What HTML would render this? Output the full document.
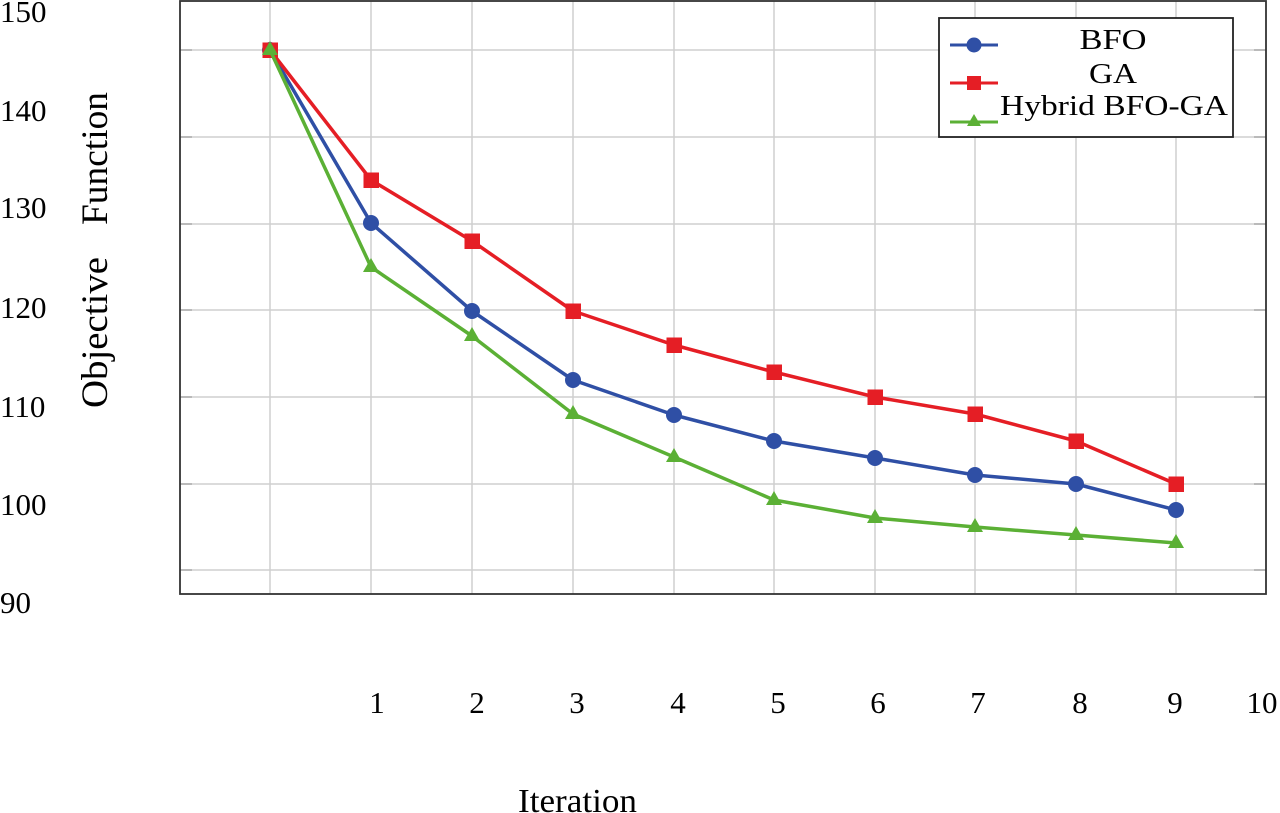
<!DOCTYPE html>
<html>
<head>
<meta charset="utf-8">
<style>
  html,body{margin:0;padding:0;background:#fff;}
  svg{display:block;}
  text{font-family:"Liberation Serif","Times New Roman",serif;fill:#000;}
</style>
</head>
<body>
<svg width="1280" height="813" viewBox="0 0 1280 813" xmlns="http://www.w3.org/2000/svg">
  <rect x="0" y="0" width="1280" height="813" fill="#fff"/>
  <!-- grid -->
  <g stroke="#cfcfcf" stroke-width="1.5">
    <line x1="270" y1="1" x2="270" y2="594"/>
    <line x1="371" y1="1" x2="371" y2="594"/>
    <line x1="472" y1="1" x2="472" y2="594"/>
    <line x1="573" y1="1" x2="573" y2="594"/>
    <line x1="674" y1="1" x2="674" y2="594"/>
    <line x1="774" y1="1" x2="774" y2="594"/>
    <line x1="875" y1="1" x2="875" y2="594"/>
    <line x1="975" y1="1" x2="975" y2="594"/>
    <line x1="1076" y1="1" x2="1076" y2="594"/>
    <line x1="1176" y1="1" x2="1176" y2="594"/>
    <line x1="180" y1="50" x2="1266" y2="50"/>
    <line x1="180" y1="137" x2="1266" y2="137"/>
    <line x1="180" y1="224" x2="1266" y2="224"/>
    <line x1="180" y1="310" x2="1266" y2="310"/>
    <line x1="180" y1="397" x2="1266" y2="397"/>
    <line x1="180" y1="484" x2="1266" y2="484"/>
    <line x1="180" y1="570" x2="1266" y2="570"/>
  </g>
  <!-- ticks -->
  <g stroke="#aaa" stroke-width="1.5">
    <line x1="180" y1="50" x2="192" y2="50"/>
    <line x1="180" y1="137" x2="192" y2="137"/>
    <line x1="180" y1="224" x2="192" y2="224"/>
    <line x1="180" y1="310" x2="192" y2="310"/>
    <line x1="180" y1="397" x2="192" y2="397"/>
    <line x1="180" y1="484" x2="192" y2="484"/>
    <line x1="180" y1="570" x2="192" y2="570"/>
    <line x1="1254" y1="50" x2="1266" y2="50"/>
    <line x1="1254" y1="137" x2="1266" y2="137"/>
    <line x1="1254" y1="224" x2="1266" y2="224"/>
    <line x1="1254" y1="310" x2="1266" y2="310"/>
    <line x1="1254" y1="397" x2="1266" y2="397"/>
    <line x1="1254" y1="484" x2="1266" y2="484"/>
    <line x1="1254" y1="570" x2="1266" y2="570"/>
  </g>
  <!-- frame -->
  <rect x="180" y="1" width="1086" height="593" fill="none" stroke="#333" stroke-width="1.8"/>

  <!-- BFO -->
  <polyline fill="none" stroke="#2f4fa5" stroke-width="3.5" stroke-linejoin="round"
    points="270,50 371,223 472,311 573,380 674,415 774,441 875,458 975,475 1076,484 1176,510"/>
  <g fill="#2f4fa5">
    <circle cx="270" cy="50" r="8"/>
    <circle cx="371" cy="223" r="8"/>
    <circle cx="472" cy="311" r="8"/>
    <circle cx="573" cy="380" r="8"/>
    <circle cx="674" cy="415" r="8"/>
    <circle cx="774" cy="441" r="8"/>
    <circle cx="875" cy="458" r="8"/>
    <circle cx="975" cy="475" r="8"/>
    <circle cx="1076" cy="484" r="8"/>
    <circle cx="1176" cy="510" r="8"/>
  </g>

  <!-- GA -->
  <polyline fill="none" stroke="#e51e25" stroke-width="3.5" stroke-linejoin="round"
    points="270,50 371,180 472,241 573,311 674,345 774,372 875,397 975,414 1076,441 1176,484"/>
  <g fill="#e51e25">
    <rect x="262.5" y="42.5" width="15.5" height="15.5"/>
    <rect x="363.5" y="172.5" width="15.5" height="15.5"/>
    <rect x="464.5" y="233.5" width="15.5" height="15.5"/>
    <rect x="565.5" y="303.5" width="15.5" height="15.5"/>
    <rect x="666.5" y="337.5" width="15.5" height="15.5"/>
    <rect x="766.5" y="364.5" width="15.5" height="15.5"/>
    <rect x="867.5" y="389.5" width="15.5" height="15.5"/>
    <rect x="967.5" y="406.5" width="15.5" height="15.5"/>
    <rect x="1068.5" y="433.5" width="15.5" height="15.5"/>
    <rect x="1168.5" y="476.5" width="15.5" height="15.5"/>
  </g>

  <!-- Hybrid -->
  <polyline fill="none" stroke="#5bb035" stroke-width="3.5" stroke-linejoin="round"
    points="270,50 371,267 472,336 573,414 674,457 774,500 875,518 975,527 1076,535 1176,543"/>
  <g fill="#5bb035">
    <polygon points="270,41 278,55 262,55"/>
    <polygon points="371,258 379,272 363,272"/>
    <polygon points="472,327 480,341 464,341"/>
    <polygon points="573,405 581,419 565,419"/>
    <polygon points="674,448 682,462 666,462"/>
    <polygon points="774,491 782,505 766,505"/>
    <polygon points="875,509 883,523 867,523"/>
    <polygon points="975,518 983,532 967,532"/>
    <polygon points="1076,526 1084,540 1068,540"/>
    <polygon points="1176,534 1184,548 1168,548"/>
  </g>

  <!-- legend -->
  <rect x="939" y="18" width="294" height="119" fill="#fff" stroke="#222" stroke-width="1.8"/>
  <line x1="950" y1="45" x2="998" y2="45" stroke="#2f4fa5" stroke-width="3"/>
  <circle cx="974" cy="45" r="7.5" fill="#2f4fa5"/>
  <line x1="950" y1="83" x2="998" y2="83" stroke="#e51e25" stroke-width="3"/>
  <rect x="967" y="76" width="14" height="14" fill="#e51e25"/>
  <line x1="950" y1="122" x2="998" y2="122" stroke="#5bb035" stroke-width="3"/>
  <polygon points="974,114 981,126 967,126" fill="#5bb035"/>
  <text x="1113" y="49" font-size="28" text-anchor="middle" textLength="67" lengthAdjust="spacingAndGlyphs">BFO</text>
  <text x="1113" y="83" font-size="28" text-anchor="middle" textLength="48" lengthAdjust="spacingAndGlyphs">GA</text>
  <text x="1000" y="115" font-size="28" textLength="228" lengthAdjust="spacingAndGlyphs">Hybrid BFO-GA</text>

  <!-- y tick labels -->
  <g font-size="31">
    <text x="0" y="22">150</text>
    <text x="0" y="121">140</text>
    <text x="0" y="218">130</text>
    <text x="0" y="318">120</text>
    <text x="0" y="417">110</text>
    <text x="0" y="515">100</text>
    <text x="0" y="613">90</text>
  </g>

  <!-- x tick labels -->
  <g font-size="31" text-anchor="middle">
    <text x="377" y="713">1</text>
    <text x="477" y="713">2</text>
    <text x="577" y="713">3</text>
    <text x="678" y="713">4</text>
    <text x="778" y="713">5</text>
    <text x="878" y="713">6</text>
    <text x="978" y="713">7</text>
    <text x="1080" y="713">8</text>
    <text x="1175" y="713">9</text>
    <text x="1262" y="713">10</text>
  </g>

  <!-- axis titles -->
  <text x="518" y="812" font-size="34" textLength="119" lengthAdjust="spacingAndGlyphs">Iteration</text>
  <text transform="translate(107,158.5) rotate(-90)" font-size="37" text-anchor="middle" textLength="133" lengthAdjust="spacingAndGlyphs">Function</text>
  <text transform="translate(107,332.5) rotate(-90)" font-size="37" text-anchor="middle" textLength="151" lengthAdjust="spacingAndGlyphs">Objective</text>
</svg>
</body>
</html>
